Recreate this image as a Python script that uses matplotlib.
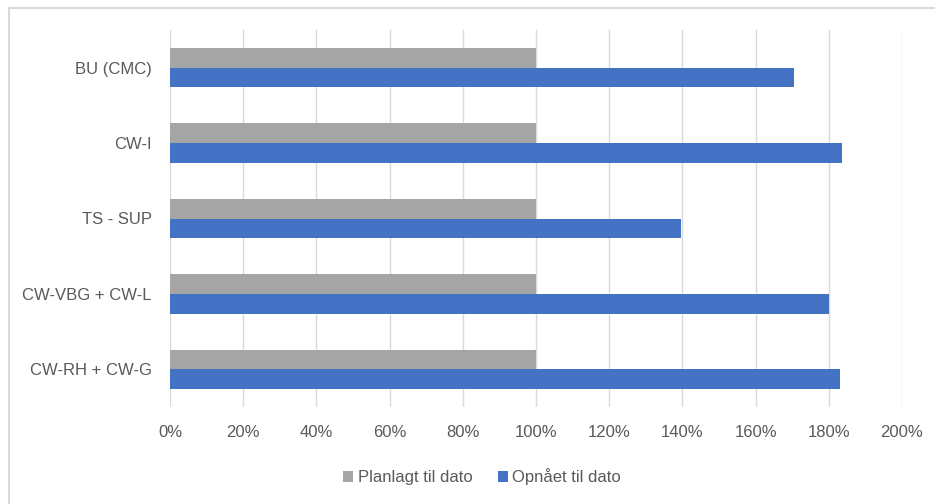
import matplotlib
matplotlib.use("Agg")
import matplotlib.pyplot as plt
from matplotlib.patches import Patch
from matplotlib.lines import Line2D
from matplotlib.ticker import FuncFormatter
import numpy as np

categories = ["BU (CMC)", "CW-I", "TS - SUP", "CW-VBG + CW-L", "CW-RH + CW-G"]
planlagt = [100, 100, 100, 100, 100]
opnaaet = [170.6, 183.6, 139.6, 180.0, 183.1]
series_names = ["Planlagt til dato", "Opnået til dato"]
xticks = [0, 20, 40, 60, 80, 100, 120, 140, 160, 180, 200]

plt.rcParams['font.family'] = ['Liberation Sans', 'DejaVu Sans']
TXT = '#595959'
GRAY = '#a5a5a5'
BLUE = '#4472c4'
GRID = '#d9d9d9'
FS = 12

fig = plt.figure(figsize=(9.35, 5.04), dpi=100)
ax = fig.add_axes([170/935, 1-407/504, (902-170)/935, (407-30)/504])

y = np.arange(len(categories))
h = 0.26
ax.barh(y - h/2, planlagt, height=h, color=GRAY, zorder=3)
ax.barh(y + h/2, opnaaet, height=h, color=BLUE, zorder=3)

ax.set_ylim(len(categories) - 0.5, -0.5)
ax.set_xlim(0, 200)
ax.set_xticks(xticks)
ax.xaxis.set_major_formatter(FuncFormatter(lambda v, p: f"{int(v)}%"))
ax.set_yticks(y)
ax.set_yticklabels(categories)
ax.tick_params(axis='both', length=0, labelsize=FS, colors=TXT)
ax.tick_params(axis='x', pad=13)
ax.tick_params(axis='y', pad=13)
ax.grid(axis='x', color=GRID, linewidth=1.0, zorder=0)
for s in ax.spines.values():
    s.set_visible(False)

handles = [Patch(facecolor=GRAY, edgecolor='none'), Patch(facecolor=BLUE, edgecolor='none')]
fig.legend(handles, series_names, loc='center', bbox_to_anchor=(482/935, 1-477/504),
           ncol=2, frameon=False, fontsize=FS, labelcolor=TXT,
           handlelength=0.6, handleheight=0.6, handletextpad=0.3, columnspacing=1.5)

fig.add_artist(Line2D([9/935, 1], [1-7.5/504, 1-7.5/504], color=GRID, linewidth=1.5, transform=fig.transFigure))
fig.add_artist(Line2D([9/935, 9/935], [0, 1-7.5/504], color=GRID, linewidth=1.5, transform=fig.transFigure))

fig.savefig("out.png", dpi=100)
